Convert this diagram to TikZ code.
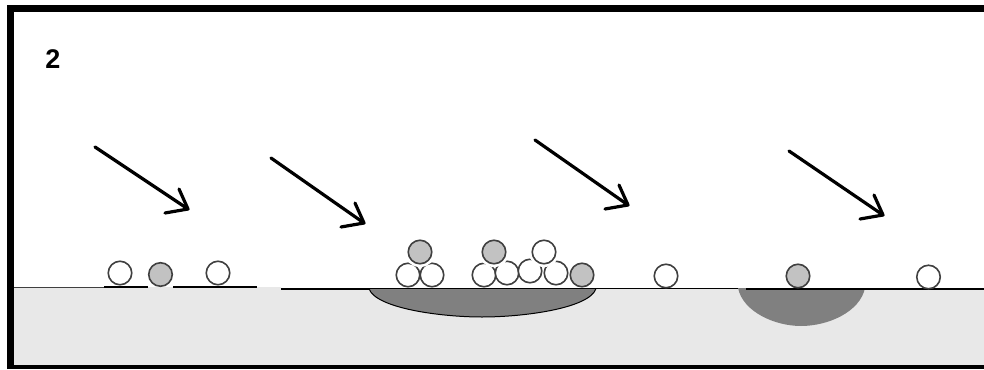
\documentclass[tikz,border=0pt]{standalone}
\usepackage{fontspec}
\usetikzlibrary{calc}
\setmainfont{Liberation Sans}
\definecolor{groundfill}{gray}{0.91}
\definecolor{pitfill}{gray}{0.5}
\definecolor{ballgray}{gray}{0.76}
\definecolor{ballline}{gray}{0.25}
\tikzset{
  ball/.style={circle,draw=ballline,line width=1.6pt,minimum size=23.500pt,inner sep=0pt,fill=white},
  grayball/.style={ball,fill=ballgray},
  halo/.style={preaction={draw=white,line width=7pt}},
  thickseg/.style={line width=2pt,black},
  thinline/.style={line width=1.2pt,black},
  ray/.style={line width=3.2pt,black,line cap=round,line join=round},
}
\begin{document}
\begin{tikzpicture}[x=1pt,y=-1pt]
\useasboundingbox (0,0) rectangle (984,369);
% ground
\fill[groundfill] (14,287) -- (281,287) -- (281,288.500) -- (984,289) -- (984,366) -- (14,366) -- cycle;
\draw[line width=0.7pt,black!75] (14,287) -- (104,287);
% pits
\fill[pitfill] (369,288.5) .. controls (375,308) and (440,317) .. (482,317) .. controls (525,317) and (590,308) .. (596,288.5) -- cycle;
\draw[line width=1pt,black] (369,288.5) .. controls (375,308) and (440,317) .. (482,317) .. controls (525,317) and (590,308) .. (596,288.5);
\fill[pitfill] (738,288) .. controls (743,312) and (775,326) .. (801,326) .. controls (828,326) and (860,312) .. (865,288) -- cycle;
% surface segments
\coordinate (s1) at (104,287); \coordinate (s2) at (148,287);
\coordinate (s3) at (173,287); \coordinate (s4) at (257,287);
\coordinate (s5) at (281,288.5); \coordinate (s6) at (369,288.5);
\draw[thickseg] (s1) -- (s2);
\draw[thickseg] (s3) -- (s4);
\draw[thickseg] (s5) -- (s6);
\coordinate (t1) at (369,288.5); \coordinate (t2) at (738,288.5);
\coordinate (t3) at (746,289); \coordinate (t4) at (984,289);
\draw[thinline] (t1) -- (t2);
\draw[thinline] (t3) -- (t4);
% balls
\node[ball] (a1) at (120,273) {};
\node[grayball] (a2) at (160.500,274.500) {};
\node[ball] (a3) at (218,273) {};
\node[ball] (b1) at (408,275) {};
\node[ball] (b2) at (432,275) {};
\node[grayball,halo] (b3) at (420,252) {};
\node[ball] (c1) at (484,275) {};
\node[ball] (c2) at (507,273) {};
\node[ball] (c3) at (530,271) {};
\node[ball] (c4) at (556,273) {};
\node[grayball,halo] (c5) at (494,252) {};
\node[ball,halo] (c6) at (544,252) {};
\node[grayball] (c7) at (582,275) {};
\node[ball] (d1) at (666,276) {};
\node[grayball] (d2) at (798,276) {};
\node[ball] (d3) at (928.500,277) {};
% arrows
\foreach \n/\sx/\sy/\ex/\ey in {1/95/147/188/209,2/271/158/364/223,3/535/140/628/205,4/789/151/883/215}{
  \coordinate (r\n s) at (\sx,\sy);
  \coordinate (r\n e) at (\ex,\ey);
  \coordinate (r\n a) at ($(r\n e)+(-9,-20)$);
  \coordinate (r\n b) at ($(r\n e)+(-23,4)$);
  \draw[ray] (r\n s) -- (r\n e);
  \draw[ray] (r\n a) -- (r\n e) -- (r\n b);
}
% label
\node[font=\fontsize{27}{27}\selectfont\bfseries,inner sep=0pt] (lbl) at (53,59) {2};
% frame
\draw[line width=7pt,black] (10.500,369) -- (10.500,8.500) -- (984,8.500);
\draw[line width=4pt,black] (10.500,367) -- (984,367);
\end{tikzpicture}
\end{document}
